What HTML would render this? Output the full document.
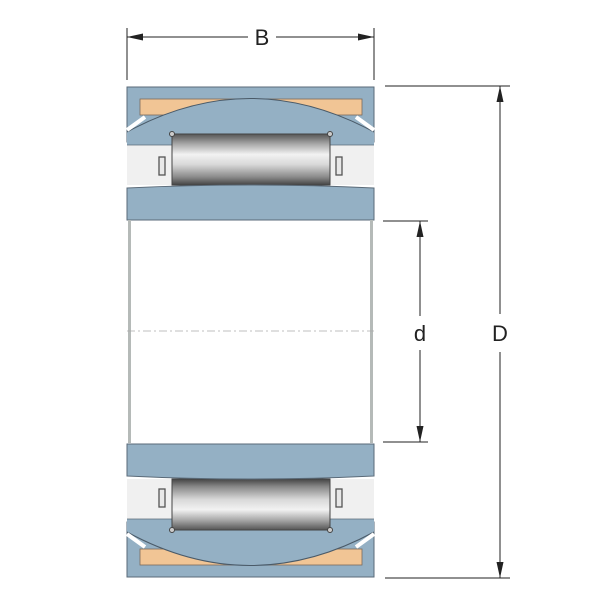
<!DOCTYPE html>
<html><head><style>body{margin:0;background:#fff}svg{display:block}</style></head><body>
<svg width="600" height="600" viewBox="0 0 600 600" xmlns="http://www.w3.org/2000/svg" font-family="Liberation Sans, sans-serif">
<defs>
<linearGradient id="rg" x1="0" y1="0" x2="0" y2="1">
<stop offset="0" stop-color="#555"/><stop offset="0.2" stop-color="#aaa"/><stop offset="0.4" stop-color="#f2f2f2"/><stop offset="0.6" stop-color="#d8d8d8"/><stop offset="0.85" stop-color="#888"/><stop offset="1" stop-color="#444"/>
</linearGradient>
<g id="half">
<rect x="127" y="87" width="247" height="133" fill="#fff"/>
<!-- outer ring -->
<rect x="127" y="87" width="247" height="55" fill="#94b0c4" stroke="#5a6a78" stroke-width="1"/>
<rect x="140" y="99" width="222" height="16" fill="#f1c595" stroke="#7a6a5a" stroke-width="0.8"/>
<path d="M127,132 Q250,65 374,132 L374,145 L127,145 Z" fill="#94b0c4"/>
<path d="M127,132 Q250,65 374,132" fill="none" stroke="#4a5a68" stroke-width="1"/>
<path d="M127,130 L145,117 M374,130 L356,117" stroke="#fff" stroke-width="4"/>
<!-- white cage area -->
<rect x="127" y="145" width="247" height="40" fill="#f0f0f0"/>
<line x1="127" y1="145" x2="374" y2="145" stroke="#5a6a78" stroke-width="0.8"/>
<rect x="159" y="157" width="6" height="18" fill="#e8e8e8" stroke="#555" stroke-width="1.3"/>
<rect x="336" y="157" width="6" height="18" fill="#e8e8e8" stroke="#555" stroke-width="1.3"/>
<!-- roller -->
<rect x="172" y="134" width="158" height="51" fill="url(#rg)" stroke="#444" stroke-width="1"/>
<circle cx="172" cy="134" r="2.5" fill="#ccc" stroke="#444"/>
<circle cx="330" cy="134" r="2.5" fill="#ccc" stroke="#444"/>
<!-- inner ring -->
<path d="M127,188 Q250,182 374,188 L374,220 L127,220 Z" fill="#94b0c4" stroke="#5a6a78" stroke-width="1"/>
</g>
</defs>
<use href="#half"/>
<use href="#half" transform="translate(0,664) scale(1,-1)"/>
<!-- bore -->
<rect x="128" y="220" width="3" height="223" fill="#b5bab8"/>
<rect x="370" y="220" width="3" height="223" fill="#b5bab8"/>
<line x1="127" y1="331" x2="374" y2="331" stroke="#aaa" stroke-width="0.8" stroke-dasharray="8,3,2,3"/>
<!-- B dim -->
<g stroke="#222" stroke-width="1" fill="none">
<line x1="127" y1="28" x2="127" y2="80"/><line x1="374" y1="28" x2="374" y2="80"/>
<line x1="127" y1="37" x2="248" y2="37"/><line x1="276" y1="37" x2="374" y2="37"/>
<line x1="385" y1="86" x2="510" y2="86"/><line x1="385" y1="578" x2="510" y2="578"/>
<line x1="500" y1="86" x2="500" y2="314"/><line x1="500" y1="352" x2="500" y2="578"/>
<line x1="383" y1="221" x2="428" y2="221"/><line x1="383" y1="442" x2="428" y2="442"/>
<line x1="420" y1="221" x2="420" y2="316"/><line x1="420" y1="350" x2="420" y2="442"/>
</g>
<g fill="#222">
<path d="M127,37 l16,-3.5 v7z"/><path d="M374,37 l-16,-3.5 v7z"/>
<path d="M500,86 l-3.5,16 h7z"/><path d="M500,578 l-3.5,-16 h7z"/>
<path d="M420,221 l-3.5,16 h7z"/><path d="M420,442 l-3.5,-16 h7z"/>
</g>
<g font-size="22" fill="#222" text-anchor="middle">
<text x="262" y="45">B</text>
<text x="420" y="341">d</text>
<text x="500" y="341">D</text>
</g>
</svg>
</body></html>
